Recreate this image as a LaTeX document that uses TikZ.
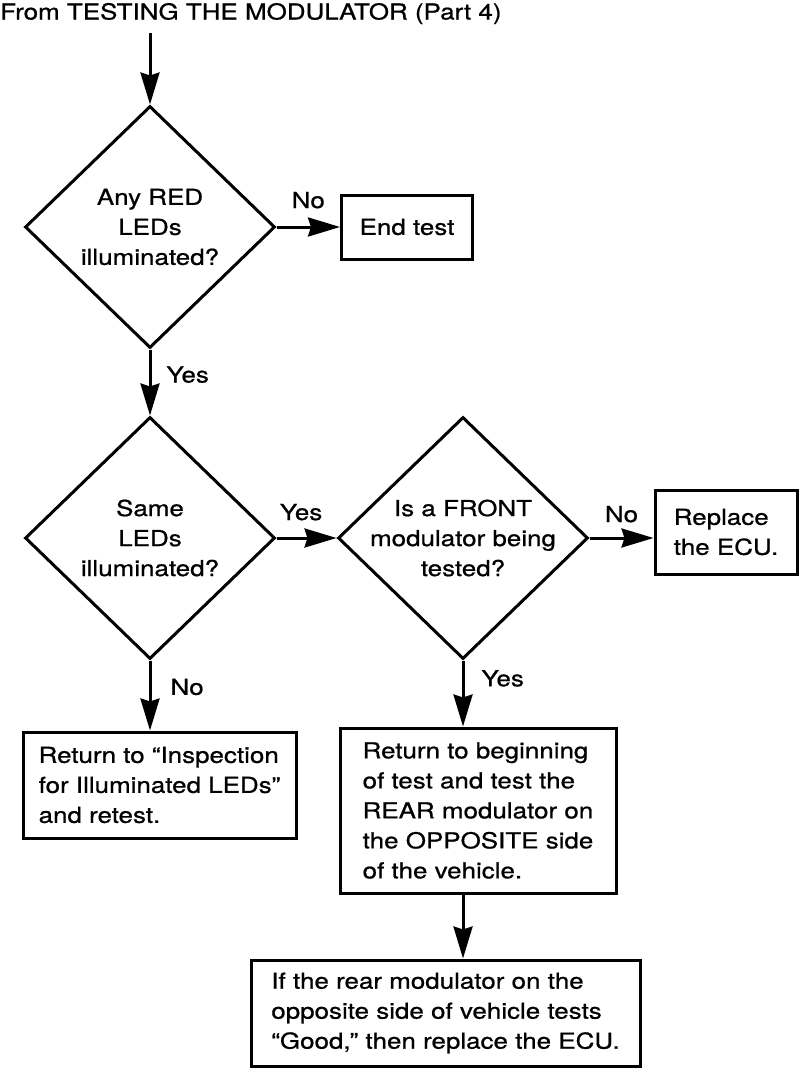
\documentclass[tikz,border=0pt]{standalone}
\usepackage{fontspec}
\setmainfont{TeX Gyre Heros}[FakeStretch=1.18, FakeBold=0.8]
\usetikzlibrary{shapes.geometric, arrows.meta}

\begin{document}
\begin{tikzpicture}[x=1pt, y=-1pt,
    every node/.style={font=\fontsize{22}{30}\selectfont},
    decision/.style={draw, line width=3pt, diamond, minimum width=250pt, minimum height=242pt,
        inner xsep=-40pt, inner ysep=0pt, align=center},
    box/.style={draw, line width=3pt, rectangle, inner sep=0pt, align=left},
    lbl/.style={inner sep=0pt},
    flow/.style={line width=3pt, -{Stealth[length=32pt, width=19pt, inset=3pt]}}
]
    % page
    \fill[white] (0,0) rectangle (800,1074);
    \useasboundingbox (0,0) rectangle (800,1074);

    % entry
    \node[lbl, anchor=base west] (title) at (0,19.5) {From TESTING THE MODULATOR (Part 4)};
    \coordinate (start) at (150,33);

    % decisions
    \node[decision] (anyred) at (150,227) {Any RED\\LEDs\\illuminated?};
    \node[decision] (same) at (150,538) {Same\\LEDs\\illuminated?};
    \node[decision] (front) at (463,538) {Is a FRONT\\modulator being\\tested?};

    % actions
    \node[box, minimum width=131pt, minimum height=64pt] (endtest) at (407,227) {End test};
    \node[box, minimum width=142pt, minimum height=84pt] (replace) at (726,532) {Replace\\the ECU.};
    \node[box, minimum width=273pt, minimum height=106pt] (inspect) at (159.5,785)
        {Return to “Inspection\\for Illuminated LEDs”\\and retest.};
    \node[box, minimum width=276pt, minimum height=165pt] (rear) at (478,810.5)
        {Return to beginning\\of test and test the\\REAR modulator on\\the OPPOSITE side\\of the vehicle.};
    \node[box, minimum width=389pt, minimum height=106pt] (good) at (445.5,1013)
        {If the rear modulator on the\\opposite side of vehicle tests\\“Good,” then replace the ECU.};

    % connectors
    \draw[flow] (start) -- (anyred.north);
    \draw[flow] (anyred.east) -- node[lbl, midway, anchor=base, yshift=19pt] {No} (endtest.west);
    \draw[flow] (anyred.south) -- node[lbl, pos=0.5, anchor=base west, xshift=15pt] {Yes} (same.north);
    \draw[flow] (same.east) -- node[lbl, pos=0.41, anchor=base, yshift=18pt] {Yes} (front.west);
    \draw[flow] (front.east) -- node[lbl, midway, anchor=base, yshift=16pt] {No} (front.east -| replace.west);
    \draw[flow] (same.south) -- node[lbl, pos=0.49, anchor=base west, xshift=19pt] {No} (same.south |- inspect.north);
    \draw[flow] (front.south) -- node[lbl, pos=0.39, anchor=base west, xshift=17pt] {Yes} (front.south |- rear.north);
    \draw[flow] (front.south |- rear.south) -- (front.south |- good.north);
\end{tikzpicture}
\end{document}
